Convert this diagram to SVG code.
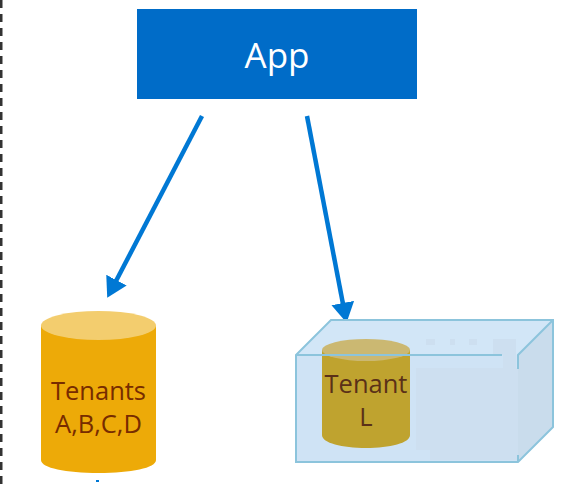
<svg xmlns="http://www.w3.org/2000/svg" width="561" height="484" viewBox="0 0 561 484">
<style>
text{font-family:"Open Sans","Noto Sans","Liberation Sans",sans-serif;text-anchor:middle}
.lbl{font-size:25.500px}
.conn{fill:none;stroke:#0078d4;stroke-width:4.500}
.edge{stroke:#8cc4dc;stroke-width:2;fill:none}
.patch{fill:#cddff0}
</style>
<defs>
<marker id="arrow" markerUnits="userSpaceOnUse" markerWidth="24" markerHeight="24" refX="1" refY="11.500" orient="auto"><path d="M0 0L20 11.500L0 23Z" fill="#0078d4"/></marker>
</defs>
<rect width="561" height="484" fill="#fff"/>
<line id="border" x1="1" y1="0" x2="1" y2="484" stroke="#333" stroke-width="3" stroke-dasharray="8 6"/>
<g id="app"><rect x="137" y="9" width="280" height="90" fill="#006cc8"/><text x="277" y="68" font-size="35" fill="#fff">App</text></g>
<g id="connectors">
<line class="conn" x1="202" y1="116" x2="116" y2="281" marker-end="url(#arrow)"/>
<line class="conn" x1="307" y1="116" x2="343" y2="304" marker-end="url(#arrow)"/>
</g>
<g id="tenants-abcd">
<path d="M41 326V460C41 468 66 473 98.500 473S156 468 156 460V326Z" fill="#edaa08"/>
<ellipse cx="98.500" cy="325.500" rx="57.500" ry="14.500" fill="#f3cd6e"/>
<text class="lbl" x="98.500" y="400" fill="#772c00">Tenants</text>
<text class="lbl" x="98.500" y="433" fill="#772c00">A,B,C,D</text>
</g>
<g id="container">
<path d="M296 355L331 320H553L518 355Z" fill="#d2e6f7"/>
<rect x="296" y="355" width="222" height="107" fill="#cfe3f5"/>
<rect class="patch" x="416" y="368" width="102" height="82"/>
<rect class="patch" x="430" y="450" width="88" height="10"/>
<path d="M518 355L553 320V427L518 462Z" fill="#c9dcec"/>
<path class="patch" d="M493 339H516V368H503V355H493Z"/>
<rect class="patch" x="426" y="339" width="9" height="6"/>
<rect class="patch" x="450" y="339" width="5" height="6"/>
<rect class="patch" x="469" y="339" width="8" height="6"/>
<g id="tenant-l">
<path d="M322 350V435C322 443 342 448 366 448S410 443 410 435V350Z" fill="#bfa32f"/>
<ellipse cx="366" cy="350" rx="44" ry="11" fill="#cbb872"/>
<text class="lbl" x="366" y="393" fill="#5a3018">Tenant</text>
<text class="lbl" x="366" y="426" fill="#5a3018">L</text>
</g>
<path class="edge" d="M296 355L331 320H553V427L518 462H296Z"/>
<path class="edge" d="M296 355H502M518 369V355L553 320M518 462V455"/>
</g>
<rect x="96" y="480" width="3" height="2" fill="#0078d4"/>
</svg>
